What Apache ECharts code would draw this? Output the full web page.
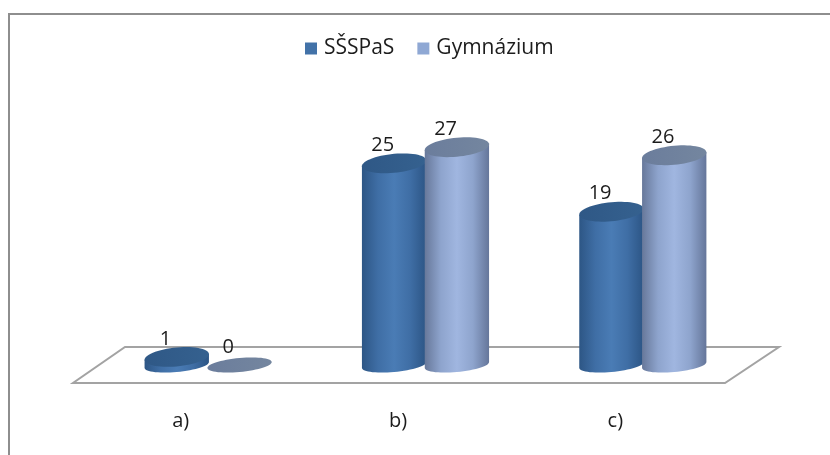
<!DOCTYPE html>
<html><head><meta charset="utf-8">
<style>html,body{margin:0;padding:0;background:#fff}#c{width:830px;height:455px}</style>
<script src="https://cdn.jsdelivr.net/npm/echarts@6/dist/echarts.min.js"></script>
</head><body><div id="c"></div>
<script>
const categories = ['a)', 'b)', 'c)'];
const seriesNames = ['SŠSPaS', 'Gymnázium'];
const sssValues = [1, 25, 19];
const gymValues = [0, 27, 26];

const FONT = '"Open Sans", sans-serif';
const TEXT = '#1c1c1c';
const looks = [
  {legend:'#4272a8', offset:-0.018, body:['#2d5685','#3f6ea5','#4a7cb5','#3f6ea5','#2c5585'], top:['#2f5886','#35618f']},
  {legend:'#8fa8d4', offset:0.271, body:['#67789a','#8ea4cd','#a0b6e0','#8ea4cd','#65769a'], top:['#6b7d9c','#74869f']}
];

function ellipsePts(cx, cy, rx, ry, k, from, to, n) {
  const p = [];
  for (let i = 0; i <= n; i++) {
    const t = from + (to - from) * i / n;
    p.push([cx + rx * Math.cos(t), cy + ry * Math.sin(t) - k * rx * Math.cos(t)]);
  }
  return p;
}
function grad(c) {
  const s = c.length - 1;
  return {type:'linear', x:0, y:0, x2:1, y2:0, colorStops:c.map((color,i)=>({offset:i/s,color}))};
}
function cylinder(look) {
  return function (params, api) {
    const v = api.value(1);
    const band = api.size([1, 0])[0];
    const base = api.coord([api.value(0), 0]);
    const top = api.coord([api.value(0), v]);
    const cx = base[0] + look.offset * band;
    const rx = 0.148 * band;
    const k = 0.09;
    const kids = [];
    if (v > 0) {
      const bodyPts = ellipsePts(cx, base[1], rx, 7, k, Math.PI, 0, 30);
      bodyPts.push([cx + rx, top[1] - k * rx]);
      bodyPts.push([cx - rx, top[1] + k * rx]);
      kids.push({type:'polygon', shape:{points:bodyPts}, style:{fill:grad(look.body)}});
    }
    const ry = v > 0 ? 9.5 : 7;
    kids.push({type:'polygon', shape:{points:ellipsePts(cx, top[1], rx, ry, k, 0, Math.PI*2, 60)}, style:{fill:grad(look.top)}});
    kids.push({type:'text', x:cx - 0.052*band, y:top[1] - 18, style:{text:String(v), font:'20px '+FONT, fill:TEXT, align:'center', verticalAlign:'middle'}});
    return {type:'group', children:kids};
  };
}
const chart = echarts.init(document.getElementById('c'), null, {renderer:'canvas'});
chart.setOption({
  animation:false,
  backgroundColor:'#fff',
  legend:{left:300, top:33, itemWidth:12, itemHeight:12, itemGap:23, icon:'rect',
    textStyle:{fontFamily:FONT, fontSize:21, color:TEXT, padding:[0,0,0,2]},
    data:seriesNames},
  grid:{left:72, width:652, top:123, bottom:90},
  xAxis:{type:'category', data:categories, axisLine:{show:false}, axisTick:{show:false}, splitLine:{show:false},
    axisLabel:{margin:46, fontFamily:FONT, fontSize:20, color:TEXT}},
  yAxis:{type:'value', min:0, max:30, show:false},
  graphic:[
    {type:'polyline', z:0, shape:{points:[[9,455],[9,14],[830,14]]}, style:{fill:null, stroke:'#8e8e8e', lineWidth:2}},
    {type:'polygon', z:0, shape:{points:[[73,383],[725,383],[779,347],[125,347]]}, style:{fill:'#fff', stroke:'#a3a3a3', lineWidth:2}}
  ],
  series:[sssValues, gymValues].map((vals,i)=>({
    type:'custom', name:seriesNames[i], clip:false,
    itemStyle:{color:looks[i].legend},
    encode:{x:0,y:1},
    data:vals.map((v,j)=>[j,v]),
    renderItem:cylinder(looks[i])
  }))
});
</script></body></html>
